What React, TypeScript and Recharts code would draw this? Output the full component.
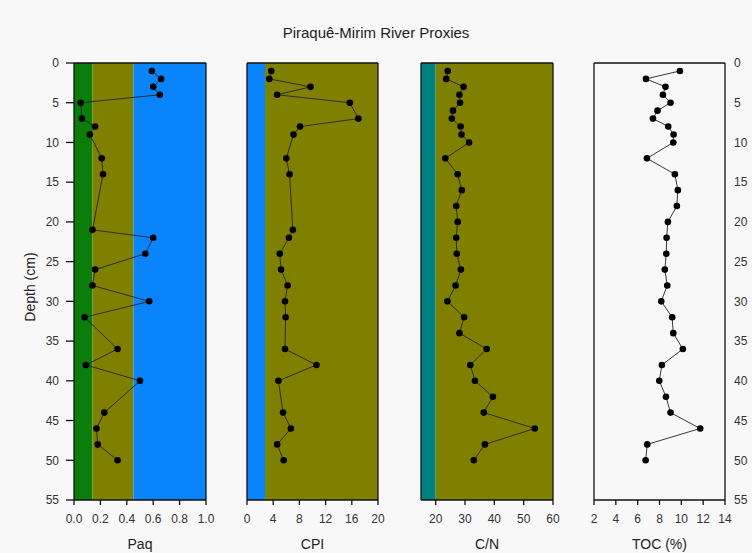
import { ScatterChart, Scatter, XAxis, YAxis, ReferenceArea, Label } from 'recharts';

// depths (cm) sampled for Paq / CPI
const depthA = [1, 2, 3, 4, 5, 7, 8, 9, 12, 14, 21, 22, 24, 26, 28, 30, 32, 36, 38, 40, 44, 46, 48, 50];
const paq = [0.59, 0.66, 0.6, 0.65, 0.05, 0.06, 0.16, 0.12, 0.21, 0.22, 0.14, 0.6, 0.54, 0.16, 0.14, 0.57, 0.08, 0.33, 0.09, 0.5, 0.23, 0.17, 0.18, 0.33];
const cpi = [3.7, 3.4, 9.7, 4.6, 15.7, 17.0, 8.1, 7.1, 6.0, 6.5, 7.0, 6.4, 5.0, 5.2, 6.2, 5.8, 5.9, 5.8, 10.6, 4.8, 5.5, 6.7, 4.6, 5.6];

// depths (cm) sampled for C/N / TOC
const depthB = [1, 2, 3, 4, 5, 6, 7, 8, 9, 10, 12, 14, 16, 18, 20, 22, 24, 26, 28, 30, 32, 34, 36, 38, 40, 42, 44, 46, 48, 50];
const cn = [24.1, 23.6, 29.5, 28.1, 28.3, 25.9, 25.5, 28.5, 28.8, 31.4, 23.3, 27.5, 28.9, 27.0, 27.5, 27.0, 27.2, 28.6, 26.8, 24.0, 29.7, 28.1, 37.4, 31.8, 33.4, 39.5, 36.4, 53.8, 36.8, 33.0];
const toc = [9.87, 6.76, 8.55, 8.31, 9.01, 7.82, 7.4, 8.8, 9.29, 9.26, 6.85, 9.41, 9.68, 9.59, 8.77, 8.65, 8.62, 8.49, 8.71, 8.16, 9.16, 9.26, 10.14, 8.22, 7.98, 8.59, 9.01, 11.73, 6.88, 6.73];

// ticks
const depthMajor = [0, 5, 10, 15, 20, 25, 30, 35, 40, 45, 50, 55];
const depthAll = [0, 2.5, 5, 7.5, 10, 12.5, 15, 17.5, 20, 22.5, 25, 27.5, 30, 32.5, 35, 37.5, 40, 42.5, 45, 47.5, 50, 52.5, 55];
const paqMajor = [0, 0.2, 0.4, 0.6, 0.8, 1.0];
const paqAll = [0, 0.1, 0.2, 0.3, 0.4, 0.5, 0.6, 0.7, 0.8, 0.9, 1.0];
const cpiMajor = [0, 4, 8, 12, 16, 20];
const cpiAll = [0, 2, 4, 6, 8, 10, 12, 14, 16, 18, 20];
const cnMajor = [20, 30, 40, 50, 60];
const cnAll = [15, 20, 25, 30, 35, 40, 45, 50, 55, 60];
const tocMajor = [2, 4, 6, 8, 10, 12, 14];
const tocAll = [2, 3, 4, 5, 6, 7, 8, 9, 10, 11, 12, 13, 14];

// interpretation bands
const paqBands = [
  { x1: 0, x2: 0.14, fill: '#0a7d0a' },
  { x1: 0.14, x2: 0.45, fill: '#808000' },
  { x1: 0.45, x2: 1.0, fill: '#0a84fa' },
];
const cpiBands = [
  { x1: 0, x2: 2.75, fill: '#0a84fa' },
  { x1: 2.75, x2: 20, fill: '#808000' },
];
const cnBands = [
  { x1: 15, x2: 20, fill: '#008080' },
  { x1: 20, x2: 60, fill: '#808000' },
];

const W = 752;
const H = 553;
const TOP = 63;
const BOTTOM = 500;
const FONT = '"Liberation Sans", Arial, sans-serif';
const AX = '#111';

type Band = { x1: number; x2: number; fill: string };

type PanelProps = {
  left: number;
  right: number;
  depth: number[];
  values: number[];
  domain: [number, number];
  major: number[];
  all: number[];
  bands: Band[];
  title: string;
  fmt?: (v: number) => string;
  leftMajor: number;
  leftMinor: number[];
  leftLabels: boolean;
  rightTicks: number[];
  rightSize: number;
  rightLabels: boolean;
};

const Dot = (props: any) => <circle cx={props.cx} cy={props.cy} r={3.3} fill="#000" />;

function Panel(p: PanelProps) {
  const data = p.depth.map((d, i) => ({ d, v: p.values[i] }));
  const tickStyle = { fill: '#333', fontSize: 12, fontFamily: FONT };
  return (
    <ScatterChart
      width={W}
      height={H}
      margin={{ top: TOP, bottom: H - BOTTOM - 2, left: p.left - 2, right: W - p.right - 1 }}
      style={{ position: 'absolute', left: 0, top: 0 }}
    >
      {p.bands.map((b, i) => (
        <ReferenceArea
          key={i}
          xAxisId="b"
          yAxisId="l"
          x1={b.x1}
          x2={b.x2}
          y1={0}
          y2={55}
          fill={b.fill}
          fillOpacity={1}
          stroke="none"
        />
      ))}
      <XAxis
        xAxisId="b"
        type="number"
        dataKey="v"
        domain={p.domain}
        ticks={p.major}
        interval={0}
        allowDataOverflow
        height={1}
        tickSize={5}
        tickMargin={9}
        stroke={AX}
        strokeWidth={1.3}
        tick={tickStyle}
        tickFormatter={p.fmt}
      >
        <Label value={p.title} position="bottom" offset={38} fill="#222" fontSize={14} fontFamily={FONT} />
      </XAxis>
      <XAxis
        xAxisId="bm"
        type="number"
        domain={p.domain}
        ticks={p.all}
        interval={0}
        allowDataOverflow
        height={1}
        tickSize={4}
        axisLine={false}
        stroke={AX}
        tick={false}
      />
      <XAxis
        xAxisId="t"
        orientation="top"
        mirror
        type="number"
        domain={p.domain}
        ticks={p.all}
        interval={0}
        allowDataOverflow
        height={1}
        tickSize={5}
        stroke={AX}
        strokeWidth={1.3}
        tick={false}
      />
      <YAxis
        yAxisId="l"
        type="number"
        dataKey="d"
        domain={[0, 55]}
        reversed
        ticks={depthMajor}
        interval={0}
        allowDataOverflow
        width={1}
        tickSize={p.leftMajor}
        tickMargin={7}
        stroke={AX}
        strokeWidth={1.3}
        tick={p.leftLabels ? tickStyle : false}
      />
      <YAxis
        yAxisId="lm"
        type="number"
        domain={[0, 55]}
        reversed
        ticks={p.leftMinor}
        interval={0}
        allowDataOverflow
        width={1}
        tickSize={4}
        axisLine={false}
        stroke={AX}
        tick={false}
      />
      <YAxis
        yAxisId="r"
        orientation="right"
        mirror
        type="number"
        domain={[0, 55]}
        reversed
        ticks={p.rightTicks}
        interval={0}
        allowDataOverflow
        width={1}
        tickSize={p.rightSize}
        stroke={AX}
        strokeWidth={1.3}
        tick={false}
      />
      <YAxis
        yAxisId="rl"
        orientation="right"
        type="number"
        domain={[0, 55]}
        reversed
        ticks={depthMajor}
        interval={0}
        allowDataOverflow
        width={1}
        tickSize={0}
        tickMargin={9}
        axisLine={false}
        tickLine={false}
        tick={p.rightLabels ? tickStyle : false}
      />
      <Scatter
        xAxisId="b"
        yAxisId="l"
        data={data}
        line={{ stroke: '#222', strokeWidth: 0.9 }}
        lineType="joint"
        shape={Dot}
        isAnimationActive={false}
      />
    </ScatterChart>
  );
}

export default function App() {
  return (
    <div
      style={{
        position: 'absolute',
        left: 0,
        top: 0,
        width: W,
        height: H,
        background: '#f8f8f8',
        fontFamily: FONT,
        overflow: 'hidden',
      }}
    >
      <div
        style={{
          position: 'absolute',
          left: 0,
          top: 24,
          width: W,
          textAlign: 'center',
          fontSize: 15,
          color: '#222',
        }}
      >
        Piraquê-Mirim River Proxies
      </div>
      <div
        style={{
          position: 'absolute',
          left: 30 - 60,
          top: 288 - 9,
          width: 120,
          textAlign: 'center',
          fontSize: 14,
          color: '#222',
          transform: 'rotate(-90deg)',
        }}
      >
        Depth (cm)
      </div>
      <Panel
        left={74}
        right={206}
        depth={depthA}
        values={paq}
        domain={[0, 1]}
        major={paqMajor}
        all={paqAll}
        bands={paqBands}
        title="Paq"
        fmt={(v) => v.toFixed(1)}
        leftMajor={8}
        leftMinor={depthAll}
        leftLabels
        rightTicks={depthAll}
        rightSize={5}
        rightLabels={false}
      />
      <Panel
        left={247}
        right={378}
        depth={depthA}
        values={cpi}
        domain={[0, 20]}
        major={cpiMajor}
        all={cpiAll}
        bands={cpiBands}
        title="CPI"
        leftMajor={5}
        leftMinor={depthMajor}
        leftLabels={false}
        rightTicks={depthMajor}
        rightSize={8}
        rightLabels={false}
      />
      <Panel
        left={421}
        right={553}
        depth={depthB}
        values={cn}
        domain={[15, 60]}
        major={cnMajor}
        all={cnAll}
        bands={cnBands}
        title="C/N"
        leftMajor={5}
        leftMinor={depthMajor}
        leftLabels={false}
        rightTicks={depthMajor}
        rightSize={8}
        rightLabels={false}
      />
      <Panel
        left={594}
        right={725}
        depth={depthB}
        values={toc}
        domain={[2, 14]}
        major={tocMajor}
        all={tocAll}
        bands={[]}
        title="TOC (%)"
        leftMajor={5}
        leftMinor={depthAll}
        leftLabels={false}
        rightTicks={depthAll}
        rightSize={6}
        rightLabels
      />
    </div>
  );
}
